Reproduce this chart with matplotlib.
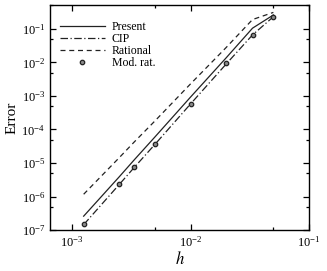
import numpy as np
import matplotlib
matplotlib.use("Agg")
import matplotlib.pyplot as plt
from matplotlib.ticker import LogLocator, NullFormatter

h = [1/800, 1/400, 1/300, 1/200, 1/100, 1/50, 1/30, 1/20]
present = [2.6e-7, 3.9e-6, 1.23e-5, 6.0e-5, 9.3e-4, 1.38e-2, 1.05e-1, 2.6e-1]
cip = [1.45e-7, 2.3e-6, 7.3e-6, 3.6e-5, 5.8e-4, 9.0e-3, 6.6e-2, 2.3e-1]
rational = [1.17e-6, 1.45e-5, 4.2e-5, 1.8e-4, 2.3e-3, 2.8e-2, 1.9e-1, 3.1e-1]
modrat = [1.48e-7, 2.35e-6, 7.4e-6, 3.7e-5, 5.9e-4, 9.3e-3, 6.7e-2, 2.2e-1]

plt.rcParams['font.family'] = ['Liberation Serif', 'DejaVu Serif']
plt.rcParams['mathtext.fontset'] = 'stix'

fig = plt.figure(figsize=(3.27, 2.71), dpi=100)
ax = fig.add_axes([0.153, 0.151, 0.792, 0.831])
lw = 0.9
ax.plot(h, present, '-', color='#222222', lw=lw, label='Present')
ax.plot(h, cip, color='#222222', lw=lw, dashes=[6, 2, 1, 2], label='CIP')
ax.plot(h, rational, color='#222222', lw=lw, dashes=[4, 3], label='Rational')
ax.plot(h, modrat, 'o', ms=3.2, mfc='#888888', mec='#222222', mew=0.9, ls='none', label='Mod. rat.')

ax.set_xscale('log')
ax.set_yscale('log')
ax.set_xlim(6.5e-4, 1e-1)
ax.set_ylim(1e-7, 0.52)
ax.xaxis.set_major_locator(LogLocator(base=10, numticks=10))
ax.xaxis.set_minor_locator(LogLocator(base=10, subs=[5], numticks=10))
ax.yaxis.set_major_locator(LogLocator(base=10, numticks=20))
ax.yaxis.set_minor_locator(LogLocator(base=10, subs=[5], numticks=20))
ax.xaxis.set_minor_formatter(NullFormatter())
ax.yaxis.set_minor_formatter(NullFormatter())
ax.tick_params(which='both', direction='in', top=True, right=True, labelsize=9, width=0.9)
ax.tick_params(which='major', length=4)
ax.tick_params(which='minor', length=2.5)
for s in ax.spines.values():
    s.set_linewidth(1.0)

ax.set_xlabel('$h$', fontsize=12, labelpad=1)
ax.set_ylabel('Error', fontsize=11, labelpad=2)
leg = ax.legend(loc='upper left', bbox_to_anchor=(0.02, 0.95), frameon=False, fontsize=8.5,
                handlelength=3.8, handletextpad=0.6, labelspacing=0.0, borderaxespad=0.0)
fig.savefig('out.png', dpi=100)
